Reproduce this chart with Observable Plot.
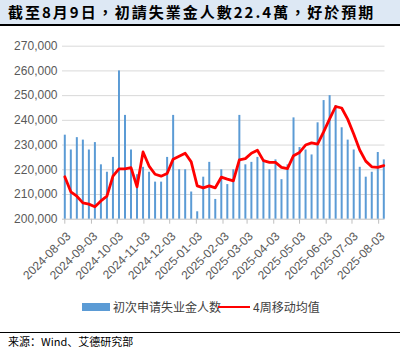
<!DOCTYPE html>
<html><head><meta charset="utf-8">
<script src="https://cdn.jsdelivr.net/npm/d3@7"></script>
<script src="https://cdn.jsdelivr.net/npm/@observablehq/plot@0.6"></script>
<style>
body{margin:0;background:#fff;}
#wrap{position:relative;width:400px;height:351px;overflow:hidden;background:#fff;font-family:"Liberation Sans",Arial,sans-serif;}
#title{position:absolute;left:0;top:0;width:400px;height:24px;background:#dde8f4;border-bottom:2px solid #000;font-family:"Noto Sans CJK TC",sans-serif;font-weight:700;font-size:15px;line-height:24px;padding-left:8px;box-sizing:content-box;letter-spacing:2px;color:#000;white-space:nowrap;}
#chart{position:absolute;left:0;top:26px;}
.lg{position:absolute;font-family:"Noto Sans CJK SC",sans-serif;font-size:12px;line-height:14px;color:#404040;white-space:nowrap;}
#foot{position:absolute;left:0;top:332px;width:400px;height:0;border-top:1.5px solid #000;}
#src{position:absolute;left:8px;top:334px;font-size:11px;line-height:14px;font-family:"Noto Sans CJK SC",sans-serif;color:#000;white-space:nowrap;}
</style>
</head><body>
<div id="wrap">
  <div id="title">截至8月9日，初請失業金人數22.4萬，好於預期</div>
  <div id="chart"></div>
  <div class="lg" style="left:82px;top:303px;width:28px;height:8px;background:#5b9bd5;"></div>
  <div class="lg" id="lg1" style="left:113px;top:300px;">初次申请失业金人数</div>
  <div class="lg" style="left:218px;top:306px;width:32px;height:2px;background:#ff0000;"></div>
  <div class="lg" id="lg2" style="left:253px;top:300px;">4周移动均值</div>
  <div id="foot"></div>
  <div id="src">来源：Wind、艾德研究部</div>
</div>
<script>
const weeks = ["2024-08-03","2024-08-10","2024-08-17","2024-08-24","2024-08-31","2024-09-07","2024-09-14","2024-09-21","2024-09-28","2024-10-05","2024-10-12","2024-10-19","2024-10-26","2024-11-02","2024-11-09","2024-11-16","2024-11-23","2024-11-30","2024-12-07","2024-12-14","2024-12-21","2024-12-28","2025-01-04","2025-01-11","2025-01-18","2025-01-25","2025-02-01","2025-02-08","2025-02-15","2025-02-22","2025-03-01","2025-03-08","2025-03-15","2025-03-22","2025-03-29","2025-04-05","2025-04-12","2025-04-19","2025-04-26","2025-05-03","2025-05-10","2025-05-17","2025-05-24","2025-05-31","2025-06-07","2025-06-14","2025-06-21","2025-06-28","2025-07-05","2025-07-12","2025-07-19","2025-07-26","2025-08-02","2025-08-09"];
const claims = [234000,228000,233000,232000,228000,231000,222000,219000,225000,260000,242000,228000,218000,221000,219000,215000,215000,225000,242000,220000,220000,211000,203000,217000,223000,208000,220000,214000,220000,242000,222000,223000,225000,224000,220000,224000,216000,222000,241000,229000,228000,226000,239000,248000,250000,246000,237000,232000,228000,221000,217000,219000,227000,224000];
const ma4w = [217200,211100,209300,206600,206100,205000,207400,209300,217400,220400,220400,220900,213100,227200,221500,218200,217400,218500,224300,225500,226700,223200,213500,212700,213500,212700,217000,216200,215500,224000,224500,226700,227900,223700,223000,223000,221000,220500,225700,227000,230000,230900,230400,235300,240600,245600,245000,240500,234500,228000,223500,221200,221000,221700];
const xTickLabels = ["2024-08-03","2024-09-03","2024-10-03","2024-11-03","2024-12-03","2025-01-03","2025-02-03","2025-03-03","2025-04-03","2025-05-03","2025-06-03","2025-07-03","2025-08-03"];
const yTicks = [200000,210000,220000,230000,240000,250000,260000,270000];

const parse = s => new Date(s + "T00:00:00Z");
const data = weeks.map((w, i) => ({date: parse(w), claims: claims[i], ma: ma4w[i]}));
const xTicks = xTickLabels.map(parse);

const chart = Plot.plot({
  width: 400, height: 265,
  marginLeft: 62, marginRight: 15.5, marginTop: 19.7, marginBottom: 72.3,
  x: {type: "utc", domain: [data[0].date, data[data.length - 1].date], insetLeft: 2.3, insetRight: 1.2, label: null},
  y: {domain: [200000, 270000], label: null},
  style: {fontFamily: "'Liberation Sans', Arial, sans-serif", fontSize: "12px", color: "#595959", background: "transparent", overflow: "visible"},
  marks: [
    Plot.gridY(yTicks.slice(1), {stroke: "#d9d9d9", strokeOpacity: 1}),
    Plot.axisY(yTicks, {tickSize: 0, tickPadding: 5, tickFormat: d3.format(","), fill: "#595959", label: null}),
    Plot.ruleY([200000], {stroke: "#bfbfbf"}),
    Plot.axisX(xTicks, {tickSize: 5, stroke: "#bfbfbf", tickFormat: () => "", label: null}),
    Plot.text(xTicks, {x: d => d, frameAnchor: "bottom", text: (d, i) => xTickLabels[i], rotate: -45, textAnchor: "end", lineAnchor: "middle", dx: 4, dy: 15, fill: "#595959"}),
    Plot.ruleX(data, {x: "date", y1: 200000, y2: "claims", stroke: "#5b9bd5", strokeWidth: 2}),
    Plot.line(data, {x: "date", y: "ma", stroke: "#ff0000", strokeWidth: 2.8, strokeLinejoin: "round"})
  ]
});
document.getElementById("chart").appendChild(chart);
</script>
</body></html>
